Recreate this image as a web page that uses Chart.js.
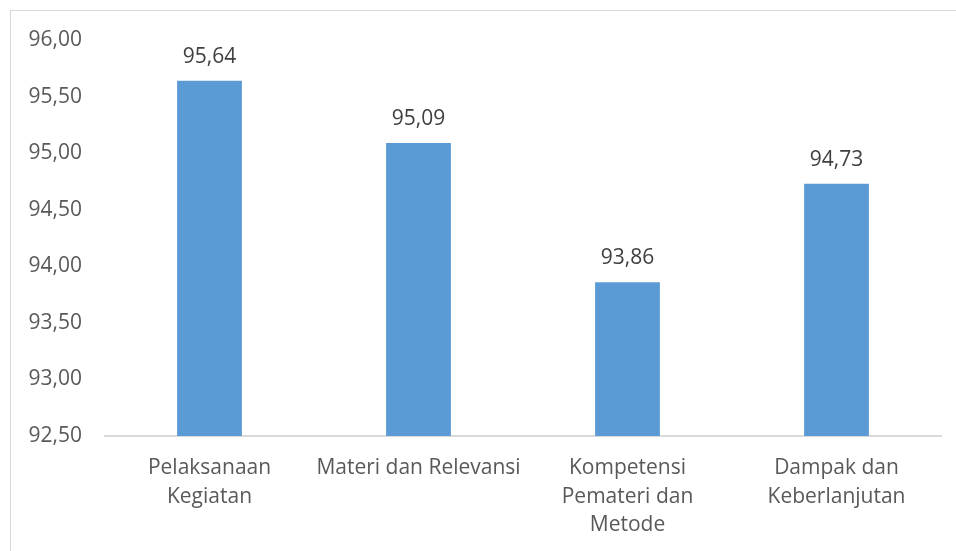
<!DOCTYPE html>
<html>
<head>
<meta charset="utf-8">
<script src="https://cdn.jsdelivr.net/npm/chart.js@4.4.1/dist/chart.umd.min.js"></script>
<style>
  html, body { margin: 0; padding: 0; background: #ffffff; overflow: hidden; }
  #wrap { position: absolute; left: 0; top: 0; width: 956px; height: 551px; }
  #frame { position: absolute; left: 10px; top: 10px; width: 960px; height: 560px; border: 1px solid #d9d9d9; box-sizing: border-box; }
  canvas { position: absolute; left: 0; top: 0; }
</style>
</head>
<body>
<div id="wrap">
  <div id="frame"></div>
  <canvas id="c" width="956" height="551"></canvas>
</div>
<script>
const categories = [
  ["Pelaksanaan", "Kegiatan"],
  "Materi dan Relevansi",
  ["Kompetensi", "Pemateri dan", "Metode"],
  ["Dampak dan", "Keberlanjutan"]
];
const values = [95.64, 95.09, 93.86, 94.73];
const yMin = 92.5;
const yMax = 96.0;
const yStep = 0.5;

const fmt = v => v.toFixed(2).replace('.', ',');

const valueLabels = {
  id: 'valueLabels',
  afterDatasetsDraw(chart) {
    const ctx = chart.ctx;
    const meta = chart.getDatasetMeta(0);
    ctx.save();
    ctx.font = '21px "Open Sans"';
    ctx.fillStyle = '#404040';
    ctx.textAlign = 'center';
    ctx.textBaseline = 'alphabetic';
    meta.data.forEach((bar, i) => {
      ctx.fillText(fmt(values[i]), bar.x, bar.y - 18);
    });
    ctx.restore();
  }
};

new Chart(document.getElementById('c'), {
  type: 'bar',
  data: {
    labels: categories,
    datasets: [{
      data: values,
      backgroundColor: '#5b9bd5',
      borderWidth: 0,
      barPercentage: 0.62,
      categoryPercentage: 0.5
    }]
  },
  options: {
    responsive: false,
    animation: false,
    devicePixelRatio: 1,
    layout: { padding: { left: 0, top: 40, right: 15, bottom: 0 } },
    plugins: { legend: { display: false }, tooltip: { enabled: false } },
    scales: {
      y: {
        min: yMin, max: yMax,
        afterFit(scale) { scale.width = 105; },
        ticks: {
          stepSize: yStep,
          padding: 23,
          color: '#595959',
          font: { family: '"Open Sans"', size: 21 },
          callback: v => fmt(v)
        },
        grid: { display: false, drawTicks: false },
        border: { display: false }
      },
      x: {
        afterFit(scale) { scale.height = 551 - 40 - 396; },
        ticks: {
          padding: 18,
          color: '#595959',
          maxRotation: 0,
          autoSkip: false,
          font: { family: '"Open Sans"', size: 21, lineHeight: 1.36 }
        },
        grid: { display: false, drawTicks: false },
        border: { display: true, color: '#d9d9d9', width: 2 }
      }
    }
  },
  plugins: [valueLabels]
});
</script>
</body>
</html>
